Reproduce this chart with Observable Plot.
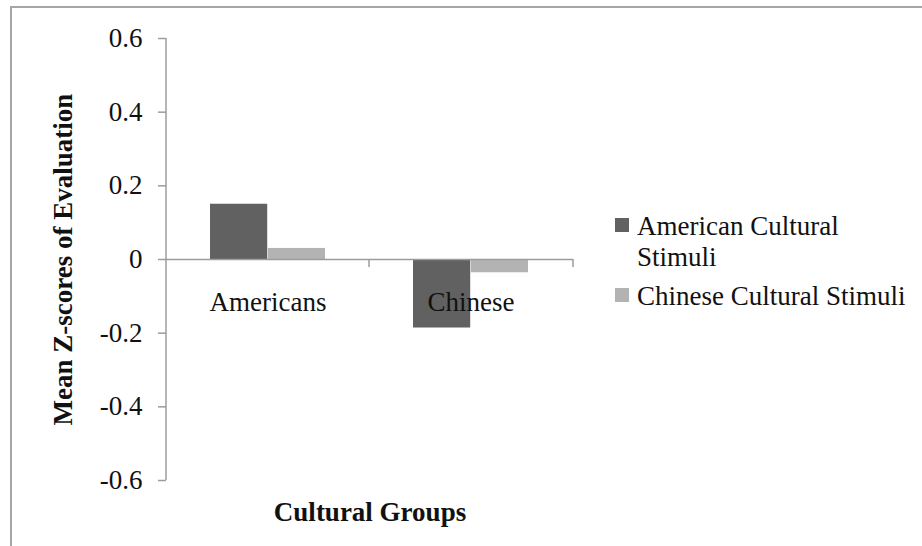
<!DOCTYPE html>
<html><head><meta charset="utf-8">
<script src="https://cdn.jsdelivr.net/npm/d3@7"></script>
<script src="https://cdn.jsdelivr.net/npm/@observablehq/plot@0.6"></script>
<style>
html,body{margin:0;padding:0;background:#fff;overflow:hidden}
body{width:922px;height:546px;position:relative;font-family:"Liberation Serif",serif}
#frame{position:absolute;left:10px;top:6px;width:1000px;height:1000px;border:2px solid #a6a6a6;box-sizing:border-box}
#chart{position:absolute;left:0;top:0}
#legend{position:absolute;left:615px;top:211px;font-size:27px;line-height:30.7px;color:#111}
.item{display:flex;align-items:flex-start;margin-bottom:9px}
.sw{width:14px;height:14px;margin-top:7px;margin-right:8px;flex:none}
.lab{max-width:280px}
</style></head><body>
<div id="frame"></div><div id="chart"></div><div id="legend"></div>
<script>
const groups = ["Americans", "Chinese"];
const seriesNames = ["American Cultural Stimuli", "Chinese Cultural Stimuli"];
const americanStimuli = [0.15, -0.186];
const chineseStimuli = [0.03, -0.036];
const yTicks = [-0.6, -0.4, -0.2, 0, 0.2, 0.4, 0.6];
const yLabel = "Mean Z-scores of Evaluation";
const xLabel = "Cultural Groups";
const colors = ["#616161", "#b3b3b3"];
const axisColor = "#9c9c9c";

const rows = groups.flatMap((g, i) => [
  {group: g, series: seriesNames[0], value: americanStimuli[i]},
  {group: g, series: seriesNames[1], value: chineseStimuli[i]}
]);

const W = 922, H = 546, ML = 166, MR = 349, MT = 38, MB = 66;
const PI = 0.432, PO = 0.216;
const step = (W - ML - MR) / (groups.length - PI + 2 * PO);
const half = step * (1 - PI) / 2;

function axisLines(index, scales) {
  const x = scales.x, y = scales.y;
  const [x0, x1] = x.range();
  const [yb, yt] = y.range();
  const y0 = y(0);
  const bw = x.bandwidth();
  const g = d3.create("svg:g").attr("stroke", axisColor).attr("stroke-width", 1.5).attr("fill", "none");
  g.append("line").attr("x1", x0).attr("x2", x0).attr("y1", yt).attr("y2", yb);
  const edges = groups.slice(1).map((name, i) => (x(groups[i]) + bw + x(name)) / 2).concat([x1]);
  for (const e of edges) g.append("line").attr("x1", e).attr("x2", e).attr("y1", y0).attr("y2", y0 + 8);
  return g.node();
}

const plot = Plot.plot({
  width: W, height: H,
  marginLeft: ML, marginRight: MR, marginTop: MT, marginBottom: MB,
  style: {fontFamily: '"Liberation Serif", serif', fontSize: "27px", color: "#111", background: "transparent", overflow: "visible"},
  x: {type: "band", domain: groups, paddingInner: PI, paddingOuter: PO},
  y: {domain: [-0.6, 0.6], labelArrow: "none"},
  marks: [
    Plot.barY(rows.filter(d => d.series === seriesNames[0]), {x: "group", y: "value", fill: colors[0], insetRight: half, insetLeft: 0}),
    Plot.barY(rows.filter(d => d.series === seriesNames[1]), {x: "group", y: "value", fill: colors[1], insetLeft: half, insetRight: 0}),
    Plot.ruleY([0], {stroke: axisColor, strokeWidth: 1.5}),
    axisLines,
    Plot.text(groups, {x: d => d, y: 0, dy: 43, fill: "#111", fontSize: 27}),
    Plot.axisY({ticks: yTicks, tickFormat: d => String(d), tickSize: 8, tickPadding: 16, stroke: axisColor, strokeWidth: 1.5, label: null, fontSize: 27}),
    Plot.axisY({ticks: [], label: yLabel, labelArrow: "none", labelAnchor: "center", labelOffset: 114, fontWeight: "bold", fontSize: 27}),
    Plot.axisX({ticks: [], label: xLabel, labelArrow: "none", labelAnchor: "center", labelOffset: 40, fontWeight: "bold", fontSize: 27})
  ]
});
document.getElementById("chart").appendChild(plot);

const legend = d3.select("#legend");
seriesNames.forEach((name, i) => {
  const item = legend.append("div").attr("class", "item");
  item.append("div").attr("class", "sw").style("background", colors[i]);
  item.append("div").attr("class", "lab").text(name);
});
</script>
</body></html>
